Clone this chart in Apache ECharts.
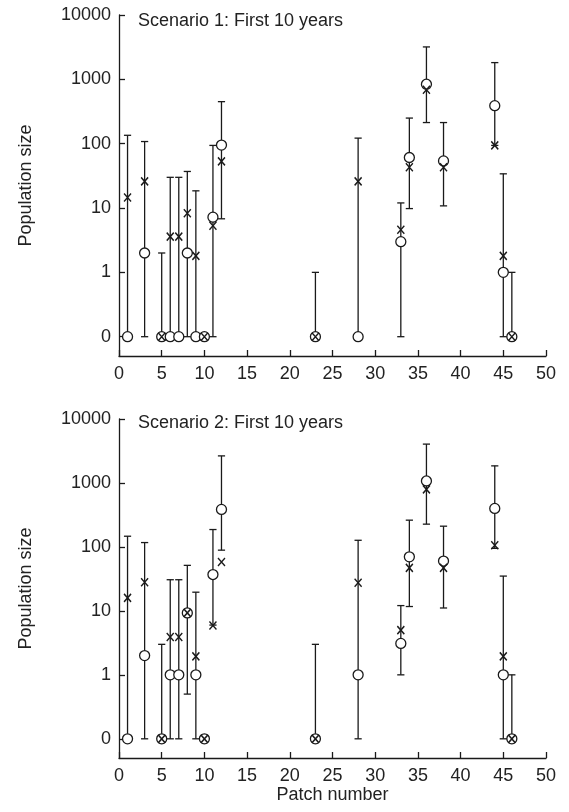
<!DOCTYPE html>
<html>
<head>
<meta charset="utf-8">
<script src="https://cdn.jsdelivr.net/npm/echarts@6/dist/echarts.min.js"></script>
<style>
html,body{margin:0;padding:0;background:#fff;}
#main{width:569px;height:812px;}
</style>
</head>
<body>
<div id="main"></div>
<script>
// Patch numbers (x positions)
var patches = [1, 3, 5, 6, 7, 8, 9, 10, 11, 12, 23, 28, 33, 34, 36, 38, 44, 45, 46];

// Scenario 1
var s1Circle = [0, 2, 0, 0, 0, 2, 0, 0, 7.2, 95, 0, 0, 3, 61, 840, 54, 390, 1, 0];
var s1Cross  = [14.6, 26, 0, 3.6, 3.6, 8.3, 1.8, 0, 5.3, 53, 0, 26, 4.6, 43, 690, 43, 94, 1.8, 0];
var s1Low    = [0, 0, 0, 0, 0, 0, 0, null, 0, 6.8, 0, 0, 0, 9.8, 213, 10.8, 94, 0, 0];
var s1High   = [135, 108, 2, 30, 30, 37, 18.5, null, 94, 450, 1, 122, 12, 250, 3190, 213, 1820, 34, 1];

// Scenario 2
var s2Circle = [0, 2, 0, 1, 1, 9.3, 1, 0, 37, 386, 0, 1, 3.1, 70, 1075, 60, 400, 1, 0];
var s2Cross  = [16, 28, 0, 3.9, 3.9, 9.3, 1.94, 0, 5.9, 58, 0, 27.5, 5, 47, 795, 47, 106, 1.94, 0];
var s2Low    = [0, 0, 0, 0, 0, 0.5, 0, null, 6, 89, 0, 0, 1, 11.7, 227, 11.1, 95, 0, 0];
var s2High   = [147, 117, 3, 30.7, 30.7, 51.5, 19.6, null, 187, 2650, 3, 127, 12.1, 262, 4050, 211, 1850, 35, 1];

var titles = ['Scenario 1: First 10 years', 'Scenario 2: First 10 years'];
var yTickValues = [0, 1, 10, 100, 1000, 10000];
var xLabel = 'Patch number';
var yLabel = 'Population size';

// y axis: log scale where 0 is drawn one decade below 1
function tf(v) { return v === 0 ? -1 : Math.log10(v); }
var yTickPos = yTickValues.map(tf);

var INK = '#1a1a1a';
var FONT = 'Liberation Sans, Arial, Helvetica, sans-serif';

function pts(vals) {
  return patches.map(function (p, i) { return [p, tf(vals[i])]; });
}
function bars(lo, hi) {
  var out = [];
  patches.forEach(function (p, i) {
    if (lo[i] !== null && hi[i] !== null) out.push([p, tf(lo[i]), tf(hi[i])]);
  });
  return out;
}
function renderBar(params, api) {
  var x = api.value(0);
  var a = api.coord([x, api.value(1)]);
  var b = api.coord([x, api.value(2)]);
  var w = 3.6;
  var st = { stroke: INK, lineWidth: 1.3 };
  return {
    type: 'group',
    children: [
      { type: 'line', shape: { x1: a[0], y1: a[1], x2: b[0], y2: b[1] }, style: st },
      { type: 'line', shape: { x1: b[0] - w, y1: b[1], x2: b[0] + w, y2: b[1] }, style: st },
      { type: 'line', shape: { x1: a[0] - w, y1: a[1], x2: a[0] + w, y2: a[1] }, style: st }
    ]
  };
}

var crossSymbol = 'path://M0,0L10,11M10,0L0,11';

var grids = [
  { left: 119, top: 15, width: 427, height: 341 },
  { left: 119, top: 419, width: 427, height: 339 }
];

var xAxes = [], yAxes = [], series = [], titleArr = [];
var sets = [
  [s1Circle, s1Cross, s1Low, s1High],
  [s2Circle, s2Cross, s2Low, s2High]
];

for (var g = 0; g < 2; g++) {
  xAxes.push({
    type: 'value', gridIndex: g, min: 0, max: 50, interval: 5,
    axisLine: { onZero: false, lineStyle: { color: INK, width: 1.3 } },
    axisTick: { inside: true, length: 6, lineStyle: { color: INK, width: 1.3 } },
    axisLabel: { color: '#222', fontSize: 18, fontFamily: FONT, margin: 9 },
    splitLine: { show: false },
    name: g === 1 ? xLabel : '',
    nameLocation: 'middle', nameGap: 22,
    nameTextStyle: { color: '#222', fontSize: 18, fontFamily: FONT }
  });
  yAxes.push({
    type: 'value', gridIndex: g, min: -1.3, max: 4,
    axisLine: { show: true, onZero: false, lineStyle: { color: INK, width: 1.3 } },
    axisTick: { show: true, inside: true, length: 6, customValues: yTickPos, lineStyle: { color: INK, width: 1.3 } },
    axisLabel: {
      color: '#222', fontSize: 18, fontFamily: FONT, margin: 8,
      customValues: yTickPos,
      formatter: function (v) {
        var i = yTickPos.findIndex(function (t) { return Math.abs(t - v) < 1e-9; });
        return i >= 0 ? String(yTickValues[i]) : '';
      }
    },
    splitLine: { show: false },
    name: yLabel, nameLocation: 'middle', nameGap: 84, nameRotate: 90,
    nameTextStyle: { color: '#222', fontSize: 18, fontFamily: FONT }
  });
  titleArr.push({
    text: titles[g], left: 133, top: g === 0 ? 7 : 409,
    textStyle: { color: '#222', fontSize: 18, fontWeight: 'normal', fontFamily: FONT }
  });
  var d = sets[g];
  series.push({
    type: 'custom', xAxisIndex: g, yAxisIndex: g, renderItem: renderBar,
    data: bars(d[2], d[3]), silent: true, z: 2
  });
  series.push({
    type: 'scatter', xAxisIndex: g, yAxisIndex: g, data: pts(d[0]),
    symbol: 'circle', symbolSize: 10,
    itemStyle: { color: '#fff', borderColor: INK, borderWidth: 1.3, opacity: 1 }, z: 3
  });
  series.push({
    type: 'scatter', xAxisIndex: g, yAxisIndex: g, data: pts(d[1]),
    symbol: crossSymbol, symbolSize: [7, 8],
    itemStyle: { color: 'none', borderColor: INK, borderWidth: 1.5, opacity: 1 }, z: 4
  });
}

var chart = echarts.init(document.getElementById('main'), null, { renderer: 'canvas' });
chart.setOption({
  animation: false,
  backgroundColor: '#fff',
  title: titleArr,
  grid: grids,
  xAxis: xAxes,
  yAxis: yAxes,
  series: series
});
</script>
</body>
</html>
